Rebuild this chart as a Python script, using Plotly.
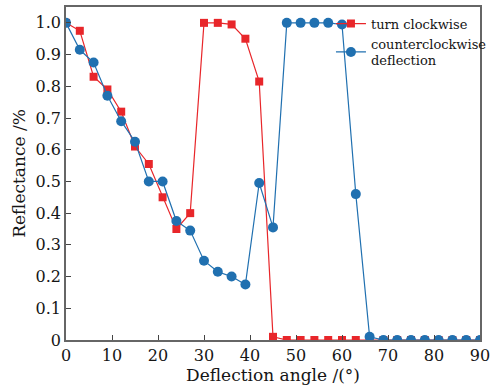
import plotly.graph_objects as go

angles = [0, 3, 6, 9, 12, 15, 18, 21, 24, 27, 30, 33, 36, 39, 42, 45, 48, 51, 54, 57, 60, 63, 66, 69, 72, 75, 78, 81, 84, 87, 90]
clockwise = [1.0, 0.975, 0.83, 0.79, 0.72, 0.61, 0.555, 0.45, 0.35, 0.40, 1.0, 1.0, 0.995, 0.95, 0.815, 0.01,
             0, 0, 0, 0, 0, 0, 0, 0, 0, 0, 0, 0, 0, 0, 0]
counterclockwise = [1.0, 0.915, 0.875, 0.77, 0.69, 0.625, 0.5, 0.5, 0.375, 0.345, 0.25, 0.215, 0.2, 0.175, 0.495, 0.355,
                    1.0, 1.0, 1.0, 1.0, 0.995, 0.46, 0.01, 0, 0, 0, 0, 0, 0, 0, 0]
x_ticks = [0, 10, 20, 30, 40, 50, 60, 70, 80, 90]
y_ticks = [0, 0.1, 0.2, 0.3, 0.4, 0.5, 0.6, 0.7, 0.8, 0.9, 1.0]
y_ticktext = ["0", "0.1", "0.2", "0.3", "0.4", "0.5", "0.6", "0.7", "0.8", "0.9", "1.0"]

RED = "#e8262a"
BLUE = "#2070b0"
FONT = "DejaVu Serif, Liberation Serif, serif"
TEXT = "#151515"

fig = go.Figure()
fig.add_trace(go.Scatter(x=angles, y=clockwise, mode="lines+markers", name="turn clockwise",
                         line=dict(color=RED, width=1.2),
                         marker=dict(symbol="square", size=8, color=RED)))
fig.add_trace(go.Scatter(x=angles, y=counterclockwise, mode="lines+markers",
                         name="counterclockwise<br>deflection",
                         line=dict(color=BLUE, width=1.2),
                         marker=dict(symbol="circle", size=10, color=BLUE)))

axis_common = dict(showline=True, linecolor="#666666", linewidth=1.5, mirror=True,
                   ticks="inside", ticklen=5, tickcolor="#444444", showgrid=False, zeroline=False,
                   automargin=False,
                   tickfont=dict(family=FONT, size=16, color=TEXT))

fig.update_layout(
    width=500, height=388,
    margin=dict(l=66, r=20, t=7, b=48),
    paper_bgcolor="white", plot_bgcolor="white",
    font=dict(family=FONT, color=TEXT),
    xaxis=dict(range=[0, 90], tickvals=x_ticks,
               title=dict(text="Deflection angle /(°)", font=dict(family=FONT, size=17, color=TEXT), standoff=4),
               **axis_common),
    yaxis=dict(range=[0, 1.05], tickvals=y_ticks, ticktext=y_ticktext,
               title=dict(text="Reflectance /%", font=dict(family=FONT, size=17, color=TEXT), standoff=6),
               **axis_common),
    legend=dict(x=0.64, y=0.995, xanchor="left", yanchor="top", bgcolor="rgba(0,0,0,0)",
                font=dict(family=FONT, size=13, color=TEXT), tracegroupgap=0, itemwidth=30),
    showlegend=True,
)

fig.write_html("out.html", config={"displayModeBar": False},
               post_script="document.body.style.margin='0';")
